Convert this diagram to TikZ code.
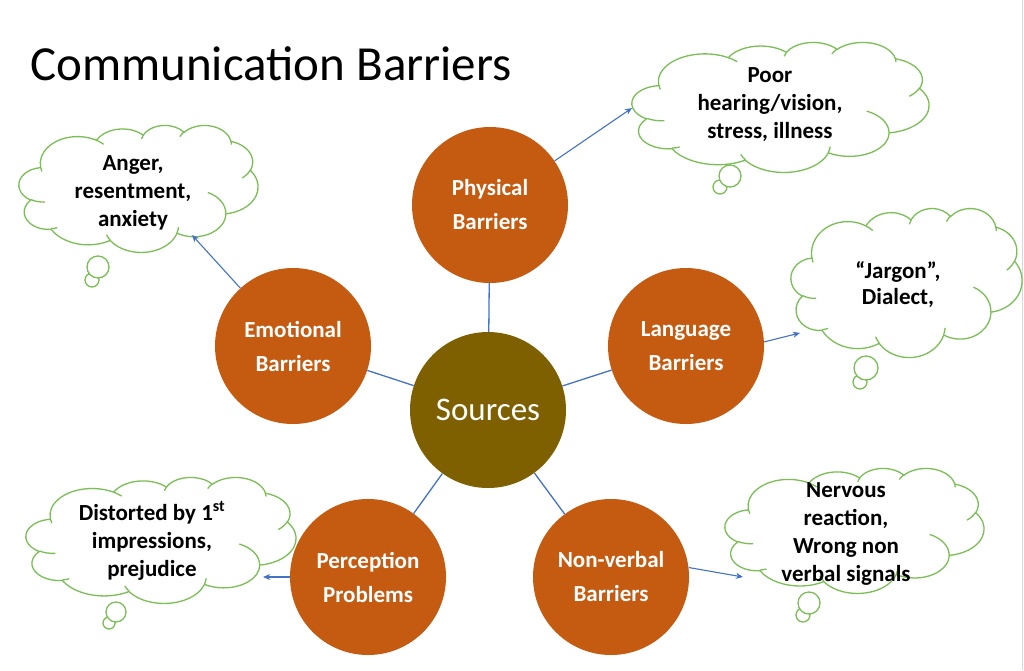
\documentclass[tikz,border=0pt]{standalone}
\usepackage{fontspec}
\setmainfont{Carlito}
\usetikzlibrary{arrows.meta}
\definecolor{barrierorange}{HTML}{C55A11}
\definecolor{sourceolive}{HTML}{7F6000}
\definecolor{linkblue}{HTML}{4472C4}
\definecolor{cloudgreen}{HTML}{7BBE55}
\definecolor{edgegray}{HTML}{D9D9D9}

\newcommand\cp[2]{({\cloudx+(#1)*\cloudsx},{\cloudy+(#2)*\cloudsy})}
\newcommand\oarc[4]{arc[start angle={atan2((#1)*sin(#3),(#2)*cos(#3))}, delta angle={mod(atan2((#1)*sin((#3)+(#4)),(#2)*cos((#3)+(#4)))-atan2((#1)*sin(#3),(#2)*cos(#3))+720,360)}, x radius={(#1)*\cloudsx}, y radius={(#2)*\cloudsy}]}
\newcommand\cloudoutline{\cp{3.9}{14.37} \oarc{6.753}{9.19}{-190.4875}{123.7805} \oarc{5.333}{7.267}{-144.1024}{89.9452} \oarc{4.365}{5.945}{-145.8079}{99.7230} \oarc{4.857}{6.595}{-130.9861}{117.2417} \oarc{5.333}{7.273}{-78.7089}{109.0269} \oarc{6.775}{9.22}{-46.2673}{130.2690} \oarc{5.785}{7.867}{0.625}{114.0333} \oarc{6.752}{9.215}{22.4516}{115.1726} \oarc{7.72}{10.543}{66.2426}{75.711} \oarc{4.36}{5.918}{-274.9421}{146.7356} \oarc{4.345}{5.945}{-246.8285}{152.5189} -- cycle}
\newcommand\cloudinner{\cp{4.693}{26.177} \oarc{4.345}{5.945}{86.742}{26.4295} \cp{6.928}{34.899} \oarc{4.36}{5.918}{73.6105}{11.4475} \cp{16.478}{39.09} \oarc{6.752}{9.215}{137.6242}{14.0811} \cp{28.827}{34.751} \oarc{6.752}{9.215}{6.4533}{15.9984} \cp{34.129}{22.954} \oarc{5.785}{7.867}{-70.2924}{70.9174} \cp{41.798}{15.354} \oarc{5.333}{7.273}{30.318}{27.7515} \cp{38.324}{5.426} \oarc{4.857}{6.595}{-13.7443}{14.8589} \cp{29.078}{3.952} \oarc{4.857}{6.595}{-149.1815}{18.1954} \cp{22.141}{4.72} \oarc{4.365}{5.945}{-163.4943}{17.6864} \cp{14.0}{5.192} \oarc{6.753}{9.19}{-66.707}{12.3194} \cp{4.127}{15.789} \oarc{6.753}{9.19}{157.6544}{11.8582}}
\newcommand\thoughtcloud[4]{%
  \pgfmathsetmacro\cloudsx{#3/43.2}%
  \pgfmathsetmacro\cloudsy{#4/43.2}%
  \def\cloudx{#1}\def\cloudy{#2}%
  \path[cloudbody] \cloudoutline;
  \path[cloudline] \cloudinner;}

\begin{document}
\begin{tikzpicture}[x=1pt, y=-1pt,
  cloudbody/.style={draw=cloudgreen, fill=white, line width=1.3pt},
  cloudline/.style={draw=cloudgreen, line width=1.3pt},
  barrier/.style={circle, fill=barrierorange, minimum size=156pt, inner sep=0pt, text=white, align=center, font=\bfseries\fontsize{23}{34}\selectfont},
  source/.style={circle, fill=sourceolive, minimum size=156pt, inner sep=0pt, text=white, font=\fontsize{33}{40}\selectfont},
  cloudtext/.style={align=center, inner sep=0pt, font=\bfseries\fontsize{23}{28}\selectfont},
  link/.style={draw=linkblue, line width=1.3pt},
  pointer/.style={draw=linkblue, line width=1.1pt, -{Stealth[length=7pt, width=6pt, inset=2pt]}}]
\useasboundingbox (0,0) rectangle (1024,670);
\fill[white] (0,0) rectangle (1024,670);
\draw[edgegray, line width=1pt] (1022,0) -- (1022,670);

% title
\node[anchor=base west, inner sep=0pt, font=\fontsize{49}{58}\selectfont] (title) at (30,80) {Communication Barriers};

% thought bubbles
\draw[cloudbody] (720,187) circle[radius=7];
\draw[cloudbody] (730,176) circle[radius=11];
\draw[cloudbody] (92,280) circle[radius=7];
\draw[cloudbody] (98,267) circle[radius=11];
\draw[cloudbody] (860,382) circle[radius=7];
\draw[cloudbody] (866,368) circle[radius=12];
\draw[cloudbody] (109,623) circle[radius=6];
\draw[cloudbody] (116,612) circle[radius=10];
\draw[cloudbody] (803,615) circle[radius=7];
\draw[cloudbody] (809,603) circle[radius=11];

% clouds
\thoughtcloud{632}{42}{297}{130}
\thoughtcloud{19}{125}{239}{127}
\thoughtcloud{791}{208}{231}{149}
\thoughtcloud{26}{477}{270}{126}
\thoughtcloud{725}{468}{259}{125}

% cloud texts
\node[cloudtext] (t1) at (770,105) {Poor\\hearing/vision,\\stress, illness};
\node[cloudtext] (t2) at (133,193) {Anger,\\resentment,\\anxiety};
\node[cloudtext, font=\bfseries\fontsize{23}{26}\selectfont] (t3) at (898,285) {“Jargon”,\\Dialect,};
\node[cloudtext] (t4) at (152,541) {Distorted by 1\textsuperscript{st}\\impressions,\\prejudice};
\node[cloudtext] (t5) at (846,534) {Nervous\\reaction,\\Wrong non\\verbal signals};

% circles
\node[source] (src) at (488,410) {Sources};
\node[barrier] (phys) at (490,205) {Physical\\Barriers};
\node[barrier] (emo) at (293,346) {Emotional\\Barriers};
\node[barrier] (lang) at (686,346) {Language\\Barriers};
\node[barrier] (perc) at (368,577) {Perception\\Problems};
\node[barrier] (nonv) at (611,577) {Non-verbal\\Barriers};

% links
\draw[link] (src) -- (phys);
\draw[link] (src) -- (emo);
\draw[link] (src) -- (lang);
\draw[link] (src) -- (perc);
\draw[link] (src) -- (nonv);

% pointers
\coordinate (tip1) at (632,108);
\coordinate (tip2) at (192,235);
\coordinate (tip3) at (800,333);
\coordinate (tip4) at (263,577);
\coordinate (tip5) at (743,577);
\draw[pointer] (phys) -- (tip1);
\draw[pointer] (emo) -- (tip2);
\draw[pointer] (lang.3) -- (tip3);
\draw[pointer] (perc) -- (tip4);
\draw[pointer] (nonv.7) -- (tip5);
\end{tikzpicture}
\end{document}
